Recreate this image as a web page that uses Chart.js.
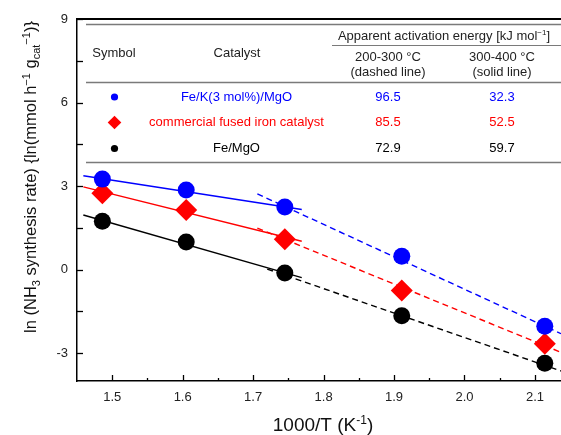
<!DOCTYPE html>
<html><head><meta charset="utf-8">
<script src="https://cdn.jsdelivr.net/npm/chart.js@4"></script>
<style>html,body{margin:0;padding:0;background:#fff;overflow:hidden}#wrap{width:561px;height:435px;position:relative}</style>
</head><body><div id="wrap"><canvas id="c" width="561" height="435"></canvas></div>
<script>
// x values: 1000/T (K^-1) for 400, 350, 300, 250, 200 °C
const invT = [1.486, 1.605, 1.745, 1.911, 2.114];
// ln(NH3 synthesis rate)
const feKMgO = [3.25, 2.86, 2.25, 0.48, -2.03];
const fusedIron = [2.74, 2.14, 1.09, -0.75, -2.66];
const feMgO = [1.74, 0.99, -0.12, -1.66, -3.36];
// Arrhenius fit lines, end points [x, y]
const feKMgOSolid = [[1.459, 3.37], [1.769, 2.16]];
const feKMgODashed = [[1.706, 2.72], [2.137, -2.30]];
const fusedSolid = [[1.459, 2.97], [1.769, 1.02]];
const fusedDashed = [[1.706, 1.49], [2.137, -2.97]];
const feMgOSolid = [[1.459, 1.96], [1.769, -0.29]];
const feMgODashed = [[1.72, 0.02], [2.137, -3.64]];
// table
const catalysts = ['Fe/K(3 mol%)/MgO', 'commercial fused iron catalyst', 'Fe/MgO'];
const ea200to300 = ['96.5', '85.5', '72.9'];
const ea300to400 = ['32.3', '52.5', '59.7'];
// axes
const xMin = 1.45, xMax = 2.137, yMin = -4, yMax = 9;
const xTickValues = [1.5, 1.55, 1.6, 1.65, 1.7, 1.75, 1.8, 1.85, 1.9, 1.95, 2.0, 2.05, 2.1];
const xTickLabels = ['1.5', '', '1.6', '', '1.7', '', '1.8', '', '1.9', '', '2.0', '', '2.1'];
const yTickValues = [-3, -1.5, 0, 1.5, 3, 4.5, 6, 7.5, 9];
const yTickLabels = ['-3', '', '0', '', '3', '', '6', '', '9'];

const BLUE = '#0000ff', RED = '#ff0000', BLACK = '#000000';
const FONT = "'Liberation Sans', Arial, sans-serif";

const pts = (xs, ys) => xs.map((x, i) => ({x, y: ys[i]}));
const seg = arr => arr.map(p => ({x: p[0], y: p[1]}));

function lineDs(data, color, dashed) {
  return {data: seg(data), showLine: true, borderColor: color, borderWidth: 1.4,
    borderDash: dashed ? [6, 4] : [], pointRadius: 0, pointHoverRadius: 0, fill: false};
}
function ptDs(data, color, style, r) {
  return {data: data, showLine: false, backgroundColor: color, borderColor: color, borderWidth: 0,
    pointStyle: style, pointRadius: r, pointHoverRadius: r};
}

function drawRich(ctx, parts, x, y, size, align) {
  const small = Math.round(size * 0.65);
  let total = 0;
  parts.forEach(p => { ctx.font = (p[1] === 'n' ? size : small) + 'px ' + FONT; total += ctx.measureText(p[0]).width; });
  let cx = align === 'center' ? x - total / 2 : x;
  ctx.textAlign = 'left'; ctx.textBaseline = 'alphabetic';
  parts.forEach(p => {
    const fs = p[1] === 'n' ? size : small;
    ctx.font = fs + 'px ' + FONT;
    let dy = 0;
    if (p[1] === 'sub') dy = size * 0.25;
    if (p[1] === 'sup') dy = -size * 0.38;
    ctx.fillText(p[0], cx, y + dy);
    cx += ctx.measureText(p[0]).width;
  });
}

const decor = {
  id: 'decor',
  beforeDatasetsDraw(chart) {
    const {ctx, chartArea: a} = chart;
    ctx.save();
    // table rules
    ctx.strokeStyle = '#7a7a7a'; ctx.lineWidth = 1.4;
    [[86, 24.5], [86, 82.5], [86, 162.5]].forEach(r => {
      ctx.beginPath(); ctx.moveTo(r[0], r[1]); ctx.lineTo(a.right, r[1]); ctx.stroke();
    });
    ctx.lineWidth = 1.1;
    ctx.beginPath(); ctx.moveTo(332, 45.5); ctx.lineTo(a.right, 45.5); ctx.stroke();
    // header
    ctx.fillStyle = '#222';
    ctx.textBaseline = 'middle'; ctx.textAlign = 'center';
    ctx.font = '13px ' + FONT;
    ctx.fillText('Symbol', 114, 53.5);
    ctx.fillText('Catalyst', 237, 53.5);
    ctx.fillText('200-300 °C', 388, 57.5);
    ctx.fillText('(dashed line)', 388, 72);
    ctx.fillText('300-400 °C', 502, 57.5);
    ctx.fillText('(solid line)', 502, 72);
    drawRich(ctx, [['Apparent activation energy [kJ mol', 'n'], ['−1', 'sup'], [']', 'n']], 444, 39.5, 13, 'center');
    // rows
    const rowY = [97, 122.5, 148.5];
    const colors = [BLUE, RED, BLACK];
    ctx.textBaseline = 'middle'; ctx.textAlign = 'center'; ctx.font = '13px ' + FONT;
    catalysts.forEach((c, i) => {
      ctx.fillStyle = colors[i];
      ctx.fillText(c, 236.5, rowY[i]);
      ctx.fillText(ea200to300[i], 388, rowY[i]);
      ctx.fillText(ea300to400[i], 502, rowY[i]);
    });
    // symbols
    ctx.fillStyle = BLUE; ctx.beginPath(); ctx.arc(114.5, rowY[0], 3.6, 0, Math.PI * 2); ctx.fill();
    ctx.fillStyle = RED; ctx.beginPath();
    ctx.moveTo(114.5, rowY[1] - 6.8); ctx.lineTo(121.3, rowY[1]); ctx.lineTo(114.5, rowY[1] + 6.8); ctx.lineTo(107.7, rowY[1]); ctx.closePath(); ctx.fill();
    ctx.fillStyle = BLACK; ctx.beginPath(); ctx.arc(114.5, rowY[2], 3.6, 0, Math.PI * 2); ctx.fill();
    ctx.restore();
  },
  afterDraw(chart) {
    const {ctx, chartArea: a, scales: {x, y}} = chart;
    ctx.save();
    ctx.strokeStyle = '#000';
    // top frame line
    ctx.lineWidth = 2;
    ctx.beginPath(); ctx.moveTo(a.left - 0.75, a.top); ctx.lineTo(a.right, a.top); ctx.stroke();
    // inward ticks
    ctx.lineWidth = 1.3;
    x.ticks.forEach(t => {
      const px = Math.round(x.getPixelForValue(t.value)) + 0.5;
      const major = Math.abs(t.value * 10 - Math.round(t.value * 10)) < 1e-6;
      const L = major ? 6 : 3;
      ctx.beginPath(); ctx.moveTo(px, a.bottom); ctx.lineTo(px, a.bottom - L); ctx.stroke();
    });
    y.ticks.forEach(t => {
      const py = Math.round(y.getPixelForValue(t.value)) + 0.5;
      ctx.beginPath(); ctx.moveTo(a.left, py); ctx.lineTo(a.left + 6, py); ctx.stroke();
    });
    // axis titles
    ctx.fillStyle = '#111';
    drawRich(ctx, [['1000/T (K', 'n'], ['-1', 'sup'], [')', 'n']], 323, 431, 19, 'center');
    ctx.translate(36, 177);
    ctx.rotate(-Math.PI / 2);
    drawRich(ctx, [['ln (NH', 'n'], ['3', 'sub'], [' synthesis rate) {ln(mmol h', 'n'], ['−1', 'sup'], [' g', 'n'], ['cat', 'sub'], ['−1', 'sup'], [')}', 'n']], 0, 0, 16.5, 'center');
    ctx.restore();
  }
};

new Chart(document.getElementById('c'), {
  type: 'scatter',
  data: {
    datasets: [
      ptDs(pts(invT, feKMgO), BLUE, 'circle', 8.5),
      ptDs(pts(invT, fusedIron), RED, 'rectRot', 11),
      ptDs(pts(invT, feMgO), BLACK, 'circle', 8.5),
      lineDs(feKMgOSolid, BLUE, false),
      lineDs(feKMgODashed, BLUE, true),
      lineDs(fusedSolid, RED, false),
      lineDs(fusedDashed, RED, true),
      lineDs(feMgOSolid, BLACK, false),
      lineDs(feMgODashed, BLACK, true)
    ]
  },
  options: {
    responsive: false,
    animation: false,
    events: [],
    layout: {autoPadding: false, padding: {top: 19, right: 0, left: 0, bottom: 0}},
    plugins: {legend: {display: false}, tooltip: {enabled: false}},
    scales: {
      x: {
        type: 'linear', min: xMin, max: xMax,
        grid: {display: false, drawTicks: false},
        border: {display: true, color: '#000', width: 1.5},
        afterFit: s => { s.height = 54; s.paddingLeft = 0; s.paddingRight = 0; },
        afterBuildTicks: s => { s.ticks = xTickValues.map(v => ({value: v})); },
        ticks: {autoSkip: false, maxRotation: 0, padding: 9, color: '#222',
          font: {family: FONT, size: 13},
          callback: (v, i) => xTickLabels[i]}
      },
      y: {
        type: 'linear', min: yMin, max: yMax,
        grid: {display: false, drawTicks: false},
        border: {display: true, color: '#000', width: 1.5},
        afterFit: s => { s.width = 77; s.paddingTop = 0; s.paddingBottom = 0; },
        afterBuildTicks: s => { s.ticks = yTickValues.map(v => ({value: v})); },
        ticks: {autoSkip: false, padding: 9, color: '#222',
          font: {family: FONT, size: 13},
          callback: (v, i) => yTickLabels[i]}
      }
    }
  },
  plugins: [decor]
});
</script>
</body></html>
